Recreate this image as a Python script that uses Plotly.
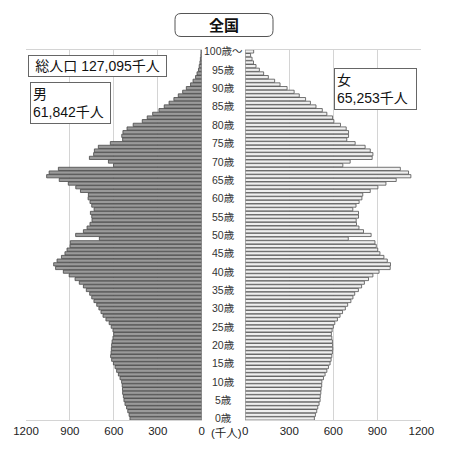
import plotly.graph_objects as go

# 全国 人口ピラミッド (千人)
ages = list(range(0, 101))
male = [490, 496, 505, 513, 524, 531, 535, 540, 541, 543,
        547, 558, 569, 581, 592, 603, 615, 622, 619, 617,
        615, 612, 606, 601, 606, 618, 632, 654, 674, 688,
        702, 717, 736, 751, 765, 788, 808, 836, 865, 905,
        945, 998, 1011, 988, 958, 934, 920, 899, 897, 699,
        861, 808, 783, 763, 749, 751, 760, 735, 751, 763,
        776, 774, 828, 860, 911, 973, 1059, 1042, 979, 602,
        637, 767, 738, 733, 706, 624, 540, 546, 538, 510,
        468, 406, 372, 335, 292, 256, 223, 190, 160, 130,
        105, 76, 59, 42, 32, 22, 17, 12, 9, 6, 5]
female = [471, 478, 487, 494, 503, 510, 511, 515, 517, 521,
          522, 533, 544, 556, 567, 578, 585, 590, 594, 596,
          595, 594, 590, 587, 592, 600, 610, 628, 646, 663,
          682, 698, 720, 734, 746, 771, 793, 812, 840, 870,
          912, 988, 990, 968, 945, 918, 903, 893, 884, 702,
          858, 806, 775, 758, 756, 772, 772, 733, 755, 776,
          795, 801, 852, 904, 959, 1029, 1129, 1113, 1057, 665,
          715, 865, 870, 852, 817, 749, 692, 704, 704, 688,
          649, 604, 595, 556, 525, 482, 444, 411, 368, 333,
          285, 237, 200, 157, 125, 96, 73, 56, 46, 36, 57]

label_ages = list(range(0, 101, 5))
age_labels = [f"{a}歳" for a in label_ages[:-1]] + ["100歳～"]
x_ticks = [0, 300, 600, 900, 1200]

total_pop = 127095
male_total = 61842
female_total = 65253

W, H = 450, 453
font = "Liberation Sans, Arial, Noto Sans CJK JP, sans-serif"
grid = "#d4d4d4"

def px(x):
    return x / W

def py(y):
    return 1 - y / H

y_dom = [py(420.3), py(49.6)]

fig = go.Figure()
fig.add_trace(go.Bar(x=male, y=ages, orientation="h", xaxis="x", yaxis="y",
                     marker=dict(color="#9a9a9a", line=dict(color="#474747", width=0.8)),
                     showlegend=False, hoverinfo="x+y"))
fig.add_trace(go.Bar(x=female, y=ages, orientation="h", xaxis="x2", yaxis="y",
                     marker=dict(color="#efefef", line=dict(color="#515151", width=0.8)),
                     showlegend=False, hoverinfo="x+y"))

axis_common = dict(tickvals=x_ticks, ticktext=[str(v) for v in x_ticks],
                   showgrid=True, gridcolor=grid, gridwidth=1,
                   showline=True, linecolor=grid, linewidth=1, mirror=True,
                   zeroline=False, ticks="", ticklen=0, automargin=False,
                   tickfont=dict(family=font, size=11.5, color="#222"))

fig.update_layout(
    width=W, height=H, autosize=False,
    margin=dict(l=0, r=0, t=0, b=0, pad=0),
    paper_bgcolor="white", plot_bgcolor="white",
    bargap=0.12,
    xaxis=dict(domain=[px(26), px(201.7)], range=[1200, 0], anchor="y", **axis_common),
    xaxis2=dict(domain=[px(245.3), px(421.3)], range=[0, 1200], anchor="y", **axis_common),
    yaxis=dict(domain=y_dom, range=[-0.5, 100.5], showticklabels=False, showgrid=False,
               zeroline=False, showline=False, ticks="", automargin=False),
    font=dict(family=font, color="#222"),
)

# 年齢ラベル (中央)
for a, t in zip(label_ages, age_labels):
    fig.add_annotation(x=px(223), y=a, xref="paper", yref="y", text=t, showarrow=False,
                       font=dict(family=font, size=10.5, color="#333"),
                       xanchor="center", yanchor="middle")

fig.add_annotation(x=px(226), y=py(433), xref="paper", yref="paper", text="(千人)",
                   showarrow=False, font=dict(family=font, size=11.5, color="#222"),
                   xanchor="center", yanchor="middle")

# タイトル枠 (角丸)
x0, x1, y0, y1, r = 175, 273, 13.5, 36.5, 6
path = (f"M {px(x0 + r)} {py(y0)} L {px(x1 - r)} {py(y0)} "
        f"Q {px(x1)} {py(y0)} {px(x1)} {py(y0 + r)} L {px(x1)} {py(y1 - r)} "
        f"Q {px(x1)} {py(y1)} {px(x1 - r)} {py(y1)} L {px(x0 + r)} {py(y1)} "
        f"Q {px(x0)} {py(y1)} {px(x0)} {py(y1 - r)} L {px(x0)} {py(y0 + r)} "
        f"Q {px(x0)} {py(y0)} {px(x0 + r)} {py(y0)} Z")
fig.add_shape(type="path", path=path, xref="paper", yref="paper",
              line=dict(color="#555", width=1))
fig.add_annotation(x=px(224), y=py(25), xref="paper", yref="paper", text="<b>全国</b>",
                   showarrow=False, xanchor="center", yanchor="middle",
                   font=dict(family="Noto Sans CJK JP", size=15, color="#111"))

box = dict(showarrow=False, xref="paper", yref="paper", bgcolor="white",
           bordercolor="#666", borderwidth=1, font=dict(family=font, size=14, color="#111"))
fig.add_annotation(x=px(28), y=py(55.5), xanchor="left", yanchor="top",
                   width=133, height=16, borderpad=2, align="center",
                   text=f"総人口 {total_pop:,}千人", **box)
fig.add_annotation(x=px(30), y=py(82), xanchor="left", yanchor="top",
                   width=75, height=36, borderpad=2, align="left",
                   text=f"男<br>{male_total:,}千人", **box)
fig.add_annotation(x=px(334), y=py(68), xanchor="left", yanchor="top",
                   width=77, height=36, borderpad=2, align="left",
                   text=f"女<br>{female_total:,}千人", **box)

fig.write_html("out.html", post_script="document.body.style.margin='0';",
               config={"displayModeBar": False})
